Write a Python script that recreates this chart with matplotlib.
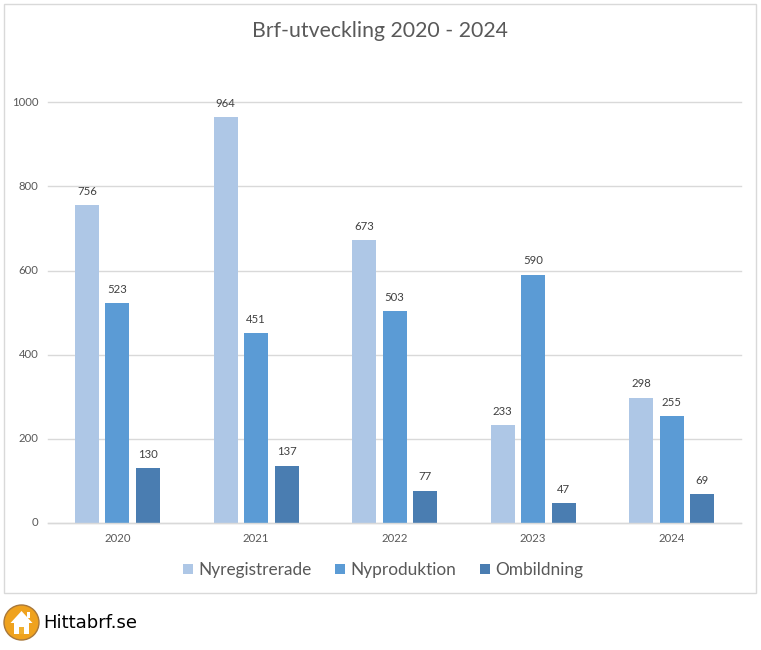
import matplotlib
matplotlib.use("Agg")
import matplotlib.pyplot as plt
from matplotlib.patches import Rectangle, Circle, Polygon
from matplotlib.transforms import ScaledTranslation

years = ["2020", "2021", "2022", "2023", "2024"]
nyregistrerade = [756, 964, 673, 233, 298]
nyproduktion = [523, 451, 503, 590, 255]
ombildning = [130, 137, 77, 47, 69]
series_names = ["Nyregistrerade", "Nyproduktion", "Ombildning"]
colors = ["#AEC7E6", "#5B9BD5", "#4A7DB1"]
title = "Brf-utveckling 2020 - 2024"
brand = "Hittabrf.se"

W, H = 761, 650
plt.rcParams['font.family'] = ['Lato', 'DejaVu Sans']
fig = plt.figure(figsize=(W / 100, H / 100), dpi=100, facecolor="white")

fig.add_artist(Rectangle((4 / W, 1 - 593 / H), 752 / W, 589 / H, transform=fig.transFigure,
                         facecolor="white", edgecolor="#D9D9D9", linewidth=1, zorder=-1))

ax = fig.add_axes([48.2 / W, 1 - 523.2 / H, 692.8 / W, 421.0 / H])
ax.set_facecolor("none")
ax.set_xlim(-0.5, 4.5)
ax.set_ylim(0, 1000)
ax.set_axisbelow(True)
ax.yaxis.grid(True, color="#D9D9D9", linewidth=1, clip_on=False)
for s in ["top", "left", "right"]:
    ax.spines[s].set_visible(False)
ax.spines["bottom"].set_color("#D9D9D9")
ax.spines["bottom"].set_linewidth(1)
ax.tick_params(length=0, labelsize=8.2, labelcolor="#595959")
ax.tick_params(axis="x", pad=7.2)
ax.tick_params(axis="y", pad=7)
ax.set_xticks(range(len(years)), years)
ax.set_yticks(range(0, 1001, 200))
for gl in ax.yaxis.get_gridlines():
    gl.set_clip_on(False)
for lab in ax.get_yticklabels():
    lab.set_transform(lab.get_transform() + ScaledTranslation(0, 1.2 / 100, fig.dpi_scale_trans))

all_series = [nyregistrerade, nyproduktion, ombildning]
bar_w = 0.173
step = 0.22
for i, (vals, name, col) in enumerate(zip(all_series, series_names, colors)):
    xs = [j + (i - 1) * step for j in range(len(years))]
    bars = ax.bar(xs, vals, width=bar_w, color=col, label=name)
    ax.bar_label(bars, labels=[str(v) for v in vals], padding=6, fontsize=8.2, color="#404040")

leg = ax.legend(loc="center", bbox_to_anchor=(383 / W, 1 - 570 / H), bbox_transform=fig.transFigure,
                ncol=3, frameon=False, fontsize=12.4, labelcolor="#595959",
                handlelength=0.58, handleheight=0.58, handletextpad=0.3, columnspacing=1.37,
                borderpad=0, borderaxespad=0)

fig.text(380 / W, 1 - 31 / H, title, ha="center", va="center", fontsize=15.3, color="#595959")

# logo, drawn in pixel coordinates of the figure
logo = fig.add_axes([0, 0, 1, 1], facecolor="none")
logo.set_xlim(0, W)
logo.set_ylim(H, 0)
logo.axis("off")
logo.add_patch(Circle((21.5, 622.5), 17.5, facecolor="#EFA21E", edgecolor="#A9783A", linewidth=1))
logo.add_patch(Polygon([(10.5, 623), (21.5, 611), (32.5, 623)], closed=True, facecolor="white", edgecolor="none"))
logo.add_patch(Rectangle((14, 622), 15, 12, facecolor="white", edgecolor="none"))
logo.add_patch(Rectangle((19, 627), 5, 7, facecolor="#F0B030", edgecolor="none"))
logo.add_patch(Rectangle((27, 612), 3, 6, facecolor="white", edgecolor="none"))
fig.text(43.5 / W, 1 - 623.5 / H, brand, ha="left", va="center", fontsize=13, color="black",
         family=["DejaVu Sans"])

fig.savefig("out.png", dpi=100)
